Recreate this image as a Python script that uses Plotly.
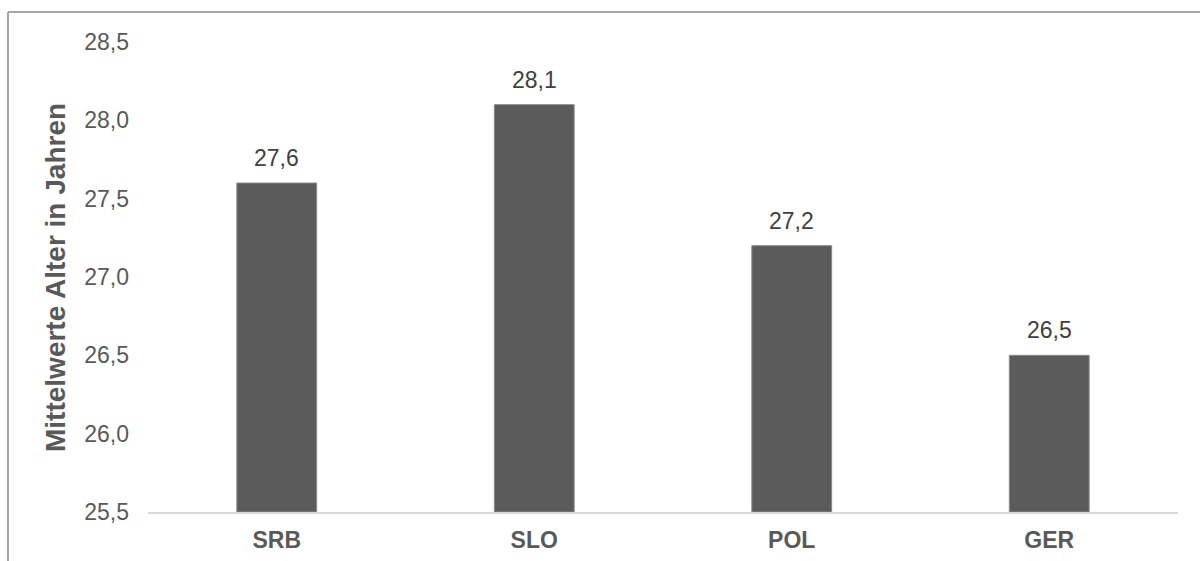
import plotly.graph_objects as go

# Mean age per country sample
countries = ["SRB", "SLO", "POL", "GER"]
mean_age = [27.6, 28.1, 27.2, 26.5]
y_ticks = [25.5, 26.0, 26.5, 27.0, 27.5, 28.0, 28.5]

FONT = "Liberation Sans, Arial, sans-serif"
GREY = "#595959"
FLOOR = 25.5

fig = go.Figure(
    go.Bar(
        x=countries,
        y=[v - FLOOR for v in mean_age],
        base=FLOOR,
        marker=dict(color="#5b5b5b", line=dict(color="#8a8a8a", width=1)),
    )
)

# value labels above each bar
for c, v in zip(countries, mean_age):
    fig.add_annotation(
        x=c, y=v, text=f"{v:.1f}".replace(".", ","), showarrow=False,
        yanchor="bottom", yshift=10,
        font=dict(family=FONT, size=23, color="#404040"),
    )

# y-axis title
fig.add_annotation(
    x=-0.0903, y=0.5, xref="paper", yref="paper",
    xanchor="center", yanchor="middle",
    text="<b>Mittelwerte Alter in Jahren</b>", textangle=-90, showarrow=False,
    font=dict(family=FONT, size=28, color=GREY),
)

# chart frame (left and top edges)
fig.add_shape(type="line", xref="paper", yref="paper",
              x0=-0.1359, x1=-0.1359, y0=-0.3, y1=1.0638,
              line=dict(color="#a6a6a6", width=2))
fig.add_shape(type="line", xref="paper", yref="paper",
              x0=-0.1359, x1=1.1, y0=1.0638, y1=1.0638,
              line=dict(color="#a6a6a6", width=2))

fig.update_layout(
    width=1200, height=561,
    margin=dict(l=148, r=22, t=42, b=49),
    paper_bgcolor="white", plot_bgcolor="white",
    separators=", ",
    bargap=0.69,
    showlegend=False,
    xaxis=dict(
        automargin=False,
        showline=True, linecolor="#d9d9d9", linewidth=2,
        showgrid=False, ticks="outside", ticklen=0,
        ticklabelstandoff=6,
        tickfont=dict(family=FONT, size=23, color=GREY, weight="bold"),
    ),
    yaxis=dict(
        automargin=False,
        range=[FLOOR, 28.5], tickvals=y_ticks, tickformat=".1f",
        showgrid=False, zeroline=False, showline=False,
        ticks="", ticklabelstandoff=18,
        tickfont=dict(family=FONT, size=23, color=GREY),
    ),
)

fig.write_html("out.html")
